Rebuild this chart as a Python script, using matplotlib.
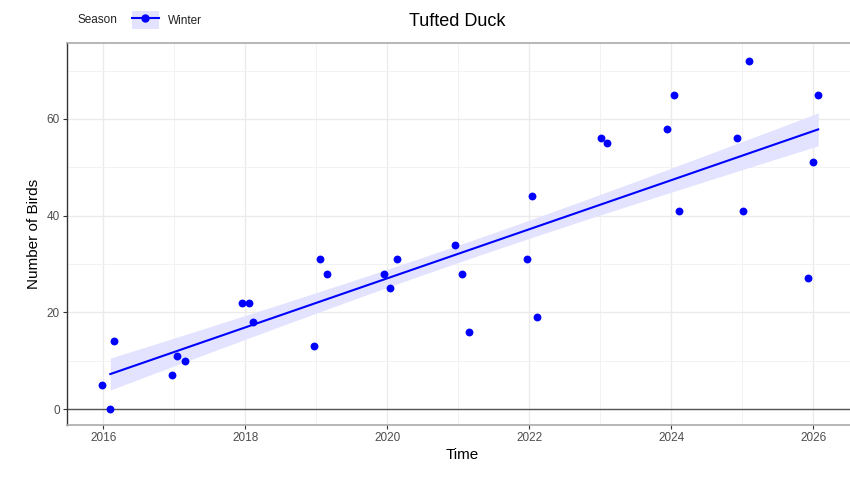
import numpy as np
import matplotlib
matplotlib.use("Agg")
import matplotlib.pyplot as plt
from matplotlib.lines import Line2D
from matplotlib.patches import Patch
from matplotlib.legend_handler import HandlerTuple
from matplotlib.offsetbox import HPacker

plt.rcParams['font.family'] = ['Liberation Sans', 'DejaVu Sans']

# winter counts (Dec / Jan / Feb), time in decimal years
time = [2015.99, 2016.10, 2016.15,
        2016.97, 2017.04, 2017.15,
        2017.96, 2018.06, 2018.11,
        2018.97, 2019.05, 2019.15,
        2019.96, 2020.04, 2020.14,
        2020.96, 2021.05, 2021.15,
        2021.97, 2022.04, 2022.11,
        2023.01, 2023.10,
        2023.94, 2024.04, 2024.11,
        2024.92, 2025.01, 2025.10,
        2025.93, 2026.00, 2026.07]
birds = [5, 0, 14,
         7, 11, 10,
         22, 22, 18,
         13, 31, 28,
         28, 25, 31,
         34, 28, 16,
         31, 44, 19,
         56, 55,
         58, 65, 41,
         56, 41, 72,
         27, 51, 65]
season = "Winter"
title = "Tufted Duck"

x = np.array(time)
y = np.array(birds, dtype=float)

# linear fit with a standard-error band
n = len(x)
coef = np.polyfit(x, y, 1)
xs = np.linspace(x[1], x.max(), 100)
ys = np.polyval(coef, xs)
resid = y - np.polyval(coef, x)
s = np.sqrt(np.sum(resid ** 2) / (n - 2))
tq = 0.95
se = s * np.sqrt(1 / n + (xs - x.mean()) ** 2 / np.sum((x - x.mean()) ** 2))

fig = plt.figure(figsize=(8.5, 4.79), dpi=100)
ax = fig.add_axes([67 / 850, 1 - 425 / 479, 790 / 850, 382 / 479])

blue = "#0000FF"
band = "#E3E3FF"
ax.fill_between(xs, ys - tq * se, ys + tq * se, color=band, lw=0, zorder=2)
ax.plot(xs, ys, color=blue, lw=1.5, zorder=3)
ax.scatter(x, y, s=32, color=blue, zorder=4, linewidths=0)
ax.axhline(0, color="#555555", lw=1.0, zorder=1.5)

ax.set_xlim(2015.49, 2015.49 + 790 / 71)
ax.set_ylim(-3.3, 75.7)
ax.set_xticks(np.arange(2016, 2027, 2))
ax.set_xticks(np.arange(2017, 2027, 2), minor=True)
ax.set_yticks([0, 20, 40, 60])
ax.set_yticks([10, 30, 50, 70], minor=True)
ax.grid(which="major", color="#EBEBEB", lw=1.0, zorder=0)
ax.grid(which="minor", color="#F2F2F2", lw=0.7, zorder=0)
ax.set_axisbelow(True)

ax.tick_params(which="major", length=3, width=0.8, color="#333333",
               labelcolor="#4D4D4D", labelsize=8.5, pad=2)
ax.tick_params(which="minor", length=0)
for side in ["top", "right", "bottom"]:
    ax.spines[side].set_color("#AAAAAA")
    ax.spines[side].set_linewidth(1.2)
ax.spines["left"].set_color("#333333")
ax.spines["left"].set_linewidth(1.0)

ax.set_xlabel("Time", fontsize=11, labelpad=3)
ax.set_ylabel("Number of Birds", fontsize=11, labelpad=4)
fig.text(457 / 850, 1 - 21 / 479, title, fontsize=13, ha="center", va="center")

handle = (Patch(facecolor=band, edgecolor="none"),
          Line2D([], [], color=blue, lw=1.5, marker="o", markersize=5))
leg = fig.legend([handle], [season], title="Season", loc="center left",
                 bbox_to_anchor=(72 / 850, 1 - 20 / 479), frameon=False,
                 fontsize=8.5, title_fontsize=8.5, handlelength=2.3,
                 handleheight=1.9,
                 handler_map={tuple: HandlerTuple(ndivide=1, pad=0)},
                 borderpad=0, handletextpad=0.8)
# title beside the key, as in a ggplot top legend
box = leg._legend_box
box._children = [HPacker(children=box._children, sep=10, align="center")]
for t in leg.get_texts() + [leg.get_title()]:
    t.set_color("#222222")

fig.savefig("out.png", dpi=100)
